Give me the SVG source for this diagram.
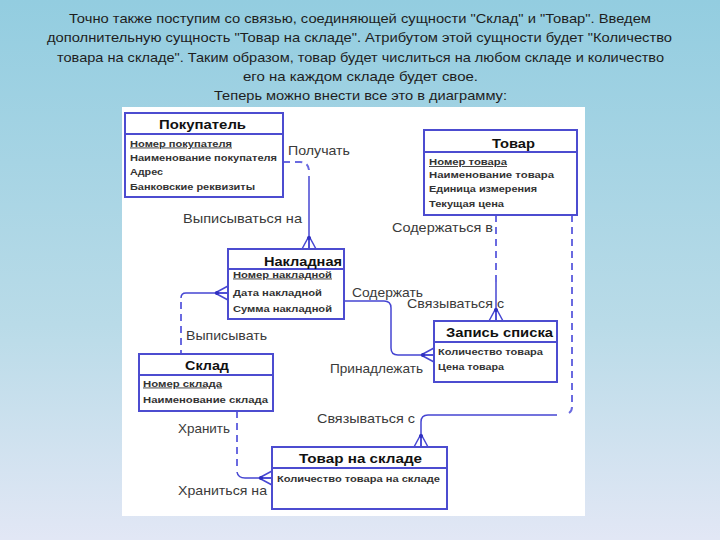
<svg xmlns="http://www.w3.org/2000/svg" xmlns:xlink="http://www.w3.org/1999/xlink" width="720" height="540" viewBox="0 0 720 540">
<defs>
<linearGradient id="bg" x1="0" y1="0" x2="0" y2="1">
<stop offset="0" stop-color="#93cde0"/>
<stop offset="0.6" stop-color="#b9dbe8"/>
<stop offset="1" stop-color="#e2e7f5"/>
</linearGradient>
<g id="crow">
<path d="M0,-13 L-7,0 M0,-13 L0,0 M0,-13 L7,0" fill="none" stroke="#4646d2" stroke-width="1.5"/>
<circle cx="0" cy="-11" r="2" fill="#3030c0"/>
</g>
</defs>
<style>
.hdr{font-family:"Liberation Sans","DejaVu Sans",sans-serif;font-size:13px;fill:#1e1e1e;}
.box{fill:#ffffff;stroke:#4c4cd0;stroke-width:2;}
.div{stroke:#4c4cd0;stroke-width:2;}
.ttl{font-family:"Liberation Sans",Arial,sans-serif;font-size:13px;font-weight:bold;fill:#111;}
.att{font-family:"Liberation Sans",Arial,sans-serif;font-size:9px;font-weight:bold;fill:#333;}
.u{text-decoration:underline;}
.lbl{font-family:"Liberation Sans",Arial,sans-serif;font-size:13px;fill:#3a3a3a;}
.sol{fill:none;stroke:#4646d2;stroke-width:1.5;}
.dsh{fill:none;stroke:#6a6ae0;stroke-width:2;stroke-dasharray:7,5;}
</style>
<rect x="0" y="0" width="720" height="540" fill="url(#bg)"/>
<g id="header">
<text class="hdr" x="69" y="23" textLength="582" lengthAdjust="spacingAndGlyphs">Точно также поступим со связью, соединяющей сущности "Склад" и "Товар". Введем</text>
<text class="hdr" x="47" y="42" textLength="625" lengthAdjust="spacingAndGlyphs">дополнительную сущность "Товар на складе". Атрибутом этой сущности будет "Количество</text>
<text class="hdr" x="57" y="62" textLength="607" lengthAdjust="spacingAndGlyphs">товара на складе". Таким образом, товар будет числиться на любом складе и количество</text>
<text class="hdr" x="243" y="81" textLength="235" lengthAdjust="spacingAndGlyphs">его на каждом складе будет свое.</text>
<text class="hdr" x="214" y="100" textLength="293" lengthAdjust="spacingAndGlyphs">Теперь можно внести все это в диаграмму:</text>
</g>
<rect x="122" y="107" width="463" height="409" fill="#ffffff"/>
<g id="connectors">
<path class="dsh" d="M283,162 L300,162 Q308,162 309,170"/>
<path class="sol" d="M309,176 L309,249"/>
<use xlink:href="#crow" transform="translate(309,249)"/>
<path class="dsh" d="M496,215 L496,282"/>
<path class="sol" d="M496,282 L496,321"/>
<use xlink:href="#crow" transform="translate(496,321)"/>
<path class="dsh" d="M572,215 L572,407 Q572,411 569,413"/>
<path class="sol" d="M557,415 L428,415 Q421,415 421,422 L421,447"/>
<use xlink:href="#crow" transform="translate(421,447)"/>
<path class="sol" d="M344,301 L384,301 Q391,301 391,308 L391,348 Q391,355 398,355 L434,355"/>
<use xlink:href="#crow" transform="translate(434,355) rotate(-90)"/>
<path class="sol" d="M228,293 L186,293 Q181,293 181,298"/>
<path class="dsh" d="M181,302 L181,354"/>
<use xlink:href="#crow" transform="translate(228,293) rotate(-90)"/>
<path class="dsh" d="M237,411 L237,470"/>
<path class="sol" d="M237,472 Q238,478 245,478 L272,478"/>
<use xlink:href="#crow" transform="translate(272,478) rotate(-90)"/>
</g>
<g id="labels">
<text class="lbl" x="288" y="155" textLength="62" lengthAdjust="spacingAndGlyphs">Получать</text>
<text class="lbl" x="183" y="223" textLength="119" lengthAdjust="spacingAndGlyphs">Выписываться на</text>
<text class="lbl" x="392" y="232" textLength="101" lengthAdjust="spacingAndGlyphs">Содержаться в</text>
<text class="lbl" x="352" y="297" textLength="71" lengthAdjust="spacingAndGlyphs">Содержать</text>
<text class="lbl" x="407" y="308" textLength="97" lengthAdjust="spacingAndGlyphs">Связываться с</text>
<text class="lbl" x="330" y="373" textLength="93" lengthAdjust="spacingAndGlyphs">Принадлежать</text>
<text class="lbl" x="186" y="340" textLength="81" lengthAdjust="spacingAndGlyphs">Выписывать</text>
<text class="lbl" x="178" y="433" textLength="52" lengthAdjust="spacingAndGlyphs">Хранить</text>
<text class="lbl" x="317" y="423" textLength="98" lengthAdjust="spacingAndGlyphs">Связываться с</text>
<text class="lbl" x="178" y="495" textLength="89" lengthAdjust="spacingAndGlyphs">Храниться на</text>
</g>
<g id="pokupatel">
<rect class="box" x="125" y="113" width="158" height="84"/>
<line class="div" x1="125" y1="134" x2="283" y2="134"/>
<text class="ttl" x="159" y="129" textLength="87" lengthAdjust="spacingAndGlyphs">Покупатель</text>
<text class="att u" x="130" y="146.5" textLength="102" lengthAdjust="spacingAndGlyphs">Номер покупателя</text>
<text class="att" x="130" y="160.5" textLength="147" lengthAdjust="spacingAndGlyphs">Наименование покупателя</text>
<text class="att" x="130" y="174.5" textLength="33" lengthAdjust="spacingAndGlyphs">Адрес</text>
<text class="att" x="130" y="189.5" textLength="125" lengthAdjust="spacingAndGlyphs">Банковские реквизиты</text>
</g>
<g id="tovar">
<rect class="box" x="424" y="130" width="153" height="85"/>
<line class="div" x1="424" y1="152" x2="577" y2="152"/>
<text class="ttl" x="492" y="147.5" textLength="43" lengthAdjust="spacingAndGlyphs">Товар</text>
<text class="att u" x="429" y="165" textLength="78" lengthAdjust="spacingAndGlyphs">Номер товара</text>
<text class="att" x="429" y="177.5" textLength="125" lengthAdjust="spacingAndGlyphs">Наименование товара</text>
<text class="att" x="429" y="192" textLength="108" lengthAdjust="spacingAndGlyphs">Единица измерения</text>
<text class="att" x="429" y="207" textLength="75" lengthAdjust="spacingAndGlyphs">Текущая цена</text>
</g>
<g id="nakladnaya">
<rect class="box" x="228" y="249" width="116" height="70"/>
<line class="div" x1="228" y1="269" x2="344" y2="269"/>
<text class="ttl" x="264" y="265.5" textLength="78" lengthAdjust="spacingAndGlyphs">Накладная</text>
<text class="att u" x="233" y="277.5" textLength="99" lengthAdjust="spacingAndGlyphs">Номер накладной</text>
<text class="att" x="233" y="295.5" textLength="89" lengthAdjust="spacingAndGlyphs">Дата накладной</text>
<text class="att" x="233" y="311.5" textLength="99" lengthAdjust="spacingAndGlyphs">Сумма накладной</text>
</g>
<g id="zapis">
<rect class="box" x="434" y="321" width="123" height="61"/>
<line class="div" x1="434" y1="342" x2="557" y2="342"/>
<text class="ttl" x="446" y="336.5" textLength="107" lengthAdjust="spacingAndGlyphs">Запись списка</text>
<text class="att" x="438" y="354.5" textLength="105" lengthAdjust="spacingAndGlyphs">Количество товара</text>
<text class="att" x="438" y="369.5" textLength="66" lengthAdjust="spacingAndGlyphs">Цена товара</text>
</g>
<g id="sklad">
<rect class="box" x="139" y="354" width="134" height="57"/>
<line class="div" x1="139" y1="375" x2="273" y2="375"/>
<text class="ttl" x="185" y="369.5" textLength="44" lengthAdjust="spacingAndGlyphs">Склад</text>
<text class="att u" x="143" y="386.5" textLength="79" lengthAdjust="spacingAndGlyphs">Номер склада</text>
<text class="att" x="143" y="402.5" textLength="125" lengthAdjust="spacingAndGlyphs">Наименование склада</text>
</g>
<g id="tovar-na-sklade">
<rect class="box" x="272" y="447" width="175" height="62"/>
<line class="div" x1="272" y1="468" x2="447" y2="468"/>
<text class="ttl" x="299" y="462.5" textLength="123" lengthAdjust="spacingAndGlyphs">Товар на складе</text>
<text class="att" x="277" y="481.5" textLength="163" lengthAdjust="spacingAndGlyphs">Количество товара на складе</text>
</g>
</svg>
